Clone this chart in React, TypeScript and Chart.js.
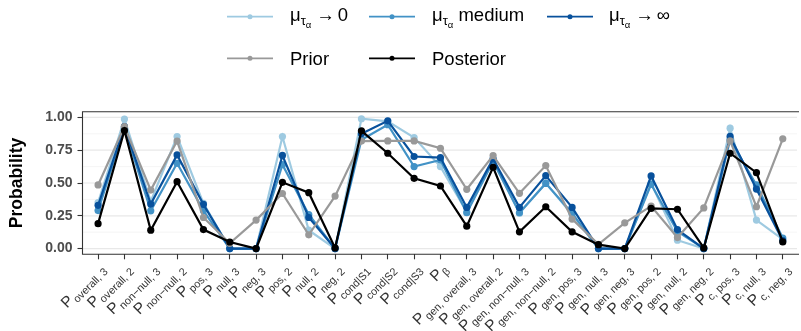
import React, { useEffect, useRef } from 'react';
import { Chart, registerables } from 'chart.js';

Chart.register(...registerables);

const FF = '"Liberation Sans", Arial, Helvetica, sans-serif';

// ---- data ----
const xMain = 'P';
const xSubs = [
  'overall, 3', 'overall, 2', 'non\u2212null, 3', 'non\u2212null, 2', 'pos, 3', 'null, 3', 'neg, 3',
  'pos, 2', 'null, 2', 'neg, 2', 'cond|S1', 'cond|S2', 'cond|S3', '\u03b2',
  'gen, overall, 3', 'gen, overall, 2', 'gen, non\u2212null, 3', 'gen, non\u2212null, 2',
  'gen, pos, 3', 'gen, null, 3', 'gen, neg, 3', 'gen, pos, 2', 'gen, null, 2', 'gen, neg, 2',
  'c, pos, 3', 'c, null, 3', 'c, neg, 3',
];

const muZero = [0.35, 0.987, 0.36, 0.854, 0.345, 0, 0, 0.854, 0.14, 0, 0.99, 0.97, 0.847, 0.625, 0.28, 0.67, 0.27, 0.5, 0.26, 0, 0, 0.5, 0.064, 0, 0.918, 0.217, 0.07];
const muMedium = [0.29, 0.92, 0.288, 0.65, 0.29, 0, 0, 0.64, 0.26, 0, 0.83, 0.944, 0.625, 0.676, 0.273, 0.663, 0.273, 0.497, 0.27, 0, 0, 0.49, 0.13, 0, 0.83, 0.485, 0.08];
const muInf = [0.33, 0.93, 0.339, 0.714, 0.337, 0, 0, 0.71, 0.237, 0, 0.875, 0.974, 0.702, 0.694, 0.314, 0.684, 0.314, 0.556, 0.314, 0, 0, 0.554, 0.145, 0, 0.855, 0.454, 0.06];
const prior = [0.485, 0.93, 0.446, 0.82, 0.237, 0.04, 0.217, 0.42, 0.105, 0.4, 0.82, 0.821, 0.821, 0.765, 0.452, 0.709, 0.421, 0.633, 0.225, 0.033, 0.196, 0.324, 0.084, 0.31, 0.821, 0.319, 0.837];
const posterior = [0.19, 0.9, 0.14, 0.51, 0.145, 0.05, 0, 0.505, 0.426, 0.005, 0.898, 0.727, 0.536, 0.477, 0.171, 0.62, 0.128, 0.319, 0.128, 0.03, 0, 0.306, 0.3, 0.005, 0.727, 0.579, 0.051];

const yTicks = [0, 0.25, 0.5, 0.75, 1];
const yGrid = [0, 0.125, 0.25, 0.375, 0.5, 0.625, 0.75, 0.875, 1];

const COLORS = {
  zero: '#9ecae1',
  medium: '#4292c6',
  inf: '#08519c',
  prior: '#999999',
  posterior: '#000000',
};

const series = [
  { key: 'zero', label: 'mu0', data: muZero, color: COLORS.zero, order: 5 },
  { key: 'medium', label: 'muMed', data: muMedium, color: COLORS.medium, order: 4 },
  { key: 'inf', label: 'muInf', data: muInf, color: COLORS.inf, order: 3 },
  { key: 'prior', label: 'Prior', data: prior, color: COLORS.prior, order: 2 },
  { key: 'posterior', label: 'Posterior', data: posterior, color: COLORS.posterior, order: 1 },
];

// ---- plugins ----
const gridPlugin = {
  id: 'customGrid',
  beforeDatasetsDraw(chart: any) {
    const { ctx, chartArea: a, scales } = chart;
    const ys = scales.y;
    ctx.save();
    yGrid.forEach((v, k) => {
      const y = ys.getPixelForValue(v);
      ctx.beginPath();
      ctx.strokeStyle = k % 2 === 0 ? '#e8e8e8' : '#f1f1f1';
      ctx.lineWidth = k % 2 === 0 ? 1.2 : 0.7;
      ctx.moveTo(a.left, y);
      ctx.lineTo(a.right, y);
      ctx.stroke();
    });
    ctx.restore();
  },
  afterDatasetsDraw(chart: any) {
    const { ctx, chartArea: a } = chart;
    ctx.save();
    ctx.strokeStyle = '#333333';
    ctx.lineWidth = 1.1;
    ctx.beginPath();
    ctx.moveTo(a.right + 2, a.top);
    ctx.lineTo(a.left, a.top);
    ctx.lineTo(a.left, a.bottom);
    ctx.lineTo(a.right + 2, a.bottom);
    ctx.stroke();
    ctx.restore();
  },
};

const xLabelPlugin = {
  id: 'xLabels',
  afterDraw(chart: any) {
    const { ctx, chartArea: a, scales } = chart;
    const xs = scales.x;
    const ay = a.bottom + 5 + 2.5;
    ctx.save();
    ctx.fillStyle = '#333333';
    ctx.textAlign = 'left';
    ctx.textBaseline = 'alphabetic';
    xSubs.forEach((sub, i) => {
      const tx = xs.getPixelForValue(i);
      ctx.save();
      ctx.translate(tx, ay);
      ctx.rotate(-Math.PI / 4);
      ctx.font = `10.8px ${FF}`;
      const ws = ctx.measureText(sub).width;
      ctx.font = `15.5px ${FF}`;
      const wp = ctx.measureText(xMain).width;
      const pb = 11.2;
      ctx.fillText(xMain, -(wp + ws + 1), pb);
      ctx.font = `10.8px ${FF}`;
      ctx.fillText(sub, -ws, pb + 3.5);
      ctx.restore();
    });
    ctx.restore();
  },
};

function drawMu(ctx: any, x: number, base: number, tail: string, isOp: boolean) {
  ctx.font = `18.5px ${FF}`;
  ctx.fillText('\u03bc', x, base);
  x += ctx.measureText('\u03bc').width;
  ctx.font = `13px ${FF}`;
  ctx.fillText('\u03c4', x, base + 3.5);
  x += ctx.measureText('\u03c4').width;
  ctx.font = `9.5px ${FF}`;
  ctx.fillText('\u03b1', x, base + 6.5);
  x += ctx.measureText('\u03b1').width;
  ctx.font = `18.5px ${FF}`;
  if (isOp) {
    x += 5;
    ctx.fillText('\u2192', x, base);
    x += ctx.measureText('\u2192').width + 3;
    ctx.fillText(tail, x, base);
  } else {
    x += ctx.measureText(' ').width;
    ctx.fillText(tail, x, base);
  }
}

const legendPlugin = {
  id: 'customLegend',
  afterDraw(chart: any) {
    const { ctx } = chart;
    const items = [
      { s: 0, lx: 227, ly: 16.7, tx: 290, tb: 21, kind: 'mu', tail: '0', op: true },
      { s: 1, lx: 369, ly: 16.7, tx: 432, tb: 21, kind: 'mu', tail: 'medium', op: false },
      { s: 2, lx: 547, ly: 16.7, tx: 609, tb: 21, kind: 'mu', tail: '\u221e', op: true },
      { s: 3, lx: 227, ly: 58.3, tx: 290, tb: 65, kind: 'txt', tail: 'Prior', op: false },
      { s: 4, lx: 369, ly: 58.3, tx: 432, tb: 65, kind: 'txt', tail: 'Posterior', op: false },
    ];
    ctx.save();
    items.forEach((it) => {
      const c = series[it.s].color;
      ctx.strokeStyle = c;
      ctx.fillStyle = c;
      ctx.lineWidth = 1.7;
      ctx.beginPath();
      ctx.moveTo(it.lx, it.ly);
      ctx.lineTo(it.lx + 46, it.ly);
      ctx.stroke();
      ctx.beginPath();
      ctx.arc(it.lx + 23, it.ly, 2.5, 0, Math.PI * 2);
      ctx.fill();
      ctx.fillStyle = '#000000';
      ctx.textAlign = 'left';
      ctx.textBaseline = 'alphabetic';
      if (it.kind === 'mu') {
        drawMu(ctx, it.tx, it.tb, it.tail, it.op);
      } else {
        ctx.font = `18.5px ${FF}`;
        ctx.fillText(it.tail, it.tx, it.tb);
      }
    });
    ctx.restore();
  },
};

export default function App() {
  const ref = useRef<HTMLCanvasElement | null>(null);

  useEffect(() => {
    if (!ref.current) return;
    const chart = new Chart(ref.current, {
      type: 'line',
      data: {
        datasets: series.map((s) => ({
          label: s.label,
          data: s.data.map((v, i) => ({ x: i, y: v })),
          borderColor: s.color,
          backgroundColor: s.color,
          pointBackgroundColor: s.color,
          pointBorderWidth: 0,
          pointRadius: 3.6,
          borderWidth: 2.2,
          tension: 0,
          fill: false,
          order: s.order,
        })),
      },
      options: {
        animation: false,
        responsive: false,
        maintainAspectRatio: false,
        devicePixelRatio: 1,
        layout: { padding: { top: 111.7, left: 0, right: 0, bottom: 0 } },
        plugins: {
          legend: { display: false },
          tooltip: { enabled: false },
        },
        scales: {
          x: {
            type: 'linear',
            min: -0.592,
            max: 26.54,
            afterBuildTicks: (s: any) => {
              s.ticks = xSubs.map((_, i) => ({ value: i }));
            },
            afterFit: (s: any) => {
              s.height = 331 - 254.3;
            },
            ticks: { display: false },
            grid: {
              display: true,
              drawOnChartArea: false,
              drawTicks: true,
              tickLength: 5,
              tickColor: '#333333',
              tickWidth: 1.1,
            },
            border: { display: false },
          },
          y: {
            type: 'linear',
            min: -0.0436,
            max: 1.0436,
            afterBuildTicks: (s: any) => {
              s.ticks = yTicks.map((v) => ({ value: v }));
            },
            afterFit: (s: any) => {
              s.width = 82.5;
            },
            ticks: {
              padding: 5,
              color: '#4d4d4d',
              font: { family: FF, size: 14, weight: 'bold' },
              callback: (v: any) => Number(v).toFixed(2),
            },
            grid: {
              display: true,
              drawOnChartArea: false,
              drawTicks: true,
              tickLength: 5,
              tickColor: '#333333',
              tickWidth: 1.1,
            },
            border: { display: false },
            title: {
              display: true,
              text: 'Probability',
              color: '#000000',
              font: { family: FF, size: 17.5, weight: 'bold' },
              padding: { top: 7, bottom: 0 },
            },
          },
        },
      },
      plugins: [gridPlugin, xLabelPlugin, legendPlugin],
    } as any);
    return () => chart.destroy();
  }, []);

  return (
    <div style={{ position: 'absolute', left: 0, top: 0, width: 801, height: 331 }}>
      <canvas ref={ref} width={801} height={331} style={{ display: 'block' }} />
    </div>
  );
}
